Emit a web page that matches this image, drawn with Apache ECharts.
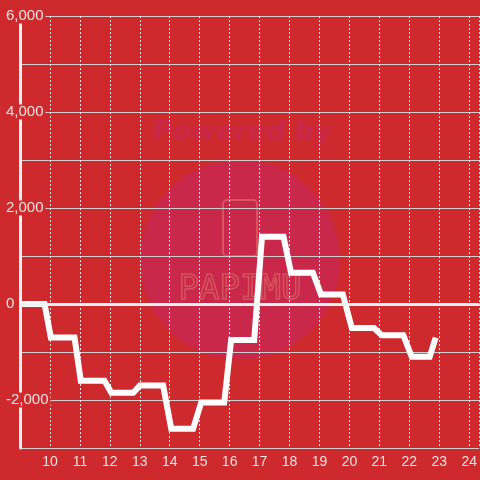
<!DOCTYPE html>
<html>
<head>
<meta charset="utf-8">
<script src="https://cdn.jsdelivr.net/npm/echarts@6/dist/echarts.min.js"></script>
<style>
  html, body { margin: 0; padding: 0; background: #ce2a2e; }
  #main { width: 480px; height: 480px; }
</style>
</head>
<body>
<div id="main"></div>
<script>
// hour positions and values of the line
var xs = [9, 9.82, 10.03, 10.82, 11.03, 11.82, 12.05, 12.78, 13.0, 13.78, 14.05, 14.78, 15.05, 15.82,
  16.05, 16.82, 17.08, 17.8, 18.05, 18.78, 19.05, 19.78, 20.08, 20.82, 21.08, 21.8, 22.08, 22.68, 22.88];
var ys = [0, 0, -700, -700, -1600, -1600, -1850, -1850, -1700, -1700, -2600, -2600, -2050, -2050,
  -750, -750, 1400, 1400, 650, 650, 200, 200, -500, -500, -650, -650, -1100, -1100, -700];
var yLabels = [6000, 4000, 2000, 0, -2000];

var points = xs.map(function (x, i) { return [x, ys[i]]; });
var bg = '#ce2a2e';

var chart = echarts.init(document.getElementById('main'));
var option = {
  backgroundColor: bg,
  animation: false,
  grid: { left: 20, right: 0, top: 16, bottom: 32 },
  graphic: [
    { type: 'circle', shape: { cx: 240, cy: 260, r: 100 }, style: { fill: '#c9284a' }, z: -1 },
    { type: 'text', x: 242, y: 133, style: { text: 'Powered by', font: 'oblique bold 27px "DejaVu Sans"', fill: '#c8284a', align: 'center', verticalAlign: 'middle' }, z: -1 },
    { type: 'rect', shape: { x: 223, y: 200, width: 34, height: 56, r: 4 }, style: { fill: 'none', stroke: '#d5545e', lineWidth: 2 }, z: -1 },
    { type: 'text', x: 240, y: 290, style: { text: 'PAPIMU', font: '34px "DejaVu Sans Mono"', fill: 'none', stroke: '#d5545e', lineWidth: 1.5, align: 'center', verticalAlign: 'middle' }, z: -1 }
  ],
  xAxis: {
    type: 'value',
    min: 9,
    max: 24.333,
    interval: 1,
    axisLine: { lineStyle: { color: '#dcdcdc', width: 1.5 } },
    axisTick: { show: false },
    axisLabel: {
      color: '#f5e2e2', fontSize: 14, margin: 7,
      showMinLabel: false, showMaxLabel: false
    },
    splitLine: { show: true, lineStyle: { color: '#e8e8e8', width: 1, type: [2, 2] } }
  },
  yAxis: [
    {
      type: 'value',
      min: -3000,
      max: 6000,
      interval: 1000,
      axisLine: { show: true, lineStyle: { color: '#f2f2f2', width: 3 } },
      axisTick: { show: false },
      axisLabel: { show: false },
      splitLine: { lineStyle: { color: '#cfcfcf', width: 1 } }
    },
    {
      type: 'value',
      min: -3000,
      max: 6000,
      interval: 1000,
      position: 'left',
      z: 5,
      axisLine: { show: false },
      axisTick: { show: false },
      splitLine: { show: false },
      axisLabel: {
        inside: true,
        margin: -16,
        formatter: function (v) {
          if (yLabels.indexOf(v) < 0) return '';
          return '{a|' + echarts.format.addCommas(v) + '}';
        },
        rich: {
          a: { color: '#f5e2e2', fontSize: 15, lineHeight: 16, backgroundColor: bg, padding: [0, 2] }
        }
      }
    }
  ],
  series: [
    {
      type: 'line',
      data: points,
      showSymbol: false,
      lineStyle: { color: '#ffffff', width: 6, join: 'miter' },
      markLine: {
        silent: true,
        symbol: 'none',
        label: { show: false },
        lineStyle: { color: '#f2f2f2', width: 3, type: 'solid' },
        data: [{ yAxis: 0 }]
      }
    }
  ]
};
chart.setOption(option);
</script>
</body>
</html>
